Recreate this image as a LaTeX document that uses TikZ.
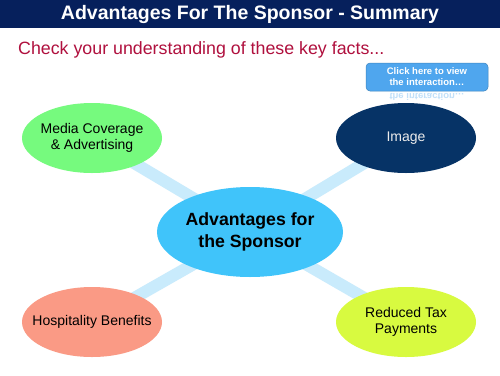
\documentclass[tikz,border=0pt]{standalone}
\usepackage{fontspec}
\setmainfont{Liberation Sans}
\usetikzlibrary{shapes.geometric,backgrounds}
\definecolor{navy}{HTML}{06205C}
\definecolor{imgnavy}{HTML}{063366}
\definecolor{subred}{HTML}{B0103E}
\definecolor{linkblue}{HTML}{C9EBFC}
\definecolor{centblue}{HTML}{40C4FA}
\definecolor{mgreen}{HTML}{76FA7E}
\definecolor{salmon}{HTML}{FA9A85}
\definecolor{lime}{HTML}{D8FA40}
\definecolor{btnblue}{HTML}{4FA6EE}
\newcommand\zwtext[1]{\makebox[0pt]{\begin{tabular}{@{}c@{}}#1\end{tabular}}}
\begin{document}
\begin{tikzpicture}[x=1pt,y=-1pt,
  bubble/.style={ellipse, minimum width=140pt, minimum height=70pt, inner sep=0pt, font=\fontsize{14}{16.5}\selectfont},
  link/.style={line width=12pt, draw=linkblue}]
\useasboundingbox (0,0) rectangle (500,375);
\fill[navy] (0,0) rectangle (500,28);
\node[text=white, font=\bfseries\fontsize{19.5}{22}\selectfont] (title) at (250,15) {Advantages For The Sponsor - Summary};
\node[text=subred, anchor=west, inner sep=0pt, font=\fontsize{17.8}{20}\selectfont] (sub) at (18,50) {Check your understanding of these key facts...};
% button
\node[draw=btnblue!80!black, line width=0.5pt, fill=btnblue, rounded corners=4pt, minimum width=122pt, minimum height=28pt, inner sep=0pt, align=center, text=white, font=\bfseries\fontsize{9.5}{11}\selectfont] (btn) at (427,77) {Click here to view\\the interaction\ldots};
\node[text=btnblue!35, yscale=-1, font=\bfseries\fontsize{9.5}{11}\selectfont] (refl) at (427,97) {the interaction\ldots};
% nodes
\node[bubble, fill=centblue, minimum width=186pt, minimum height=90pt, font=\bfseries\fontsize{17.7}{21.5}\selectfont] (c) at (250,232) {\zwtext{Advantages for\\the Sponsor}};
\node[bubble, fill=mgreen] (media) at (92,138) {\zwtext{Media Coverage\\\& Advertising}};
\node[bubble, fill=imgnavy, text=white!85!gray] (img) at (406,138) {\zwtext{Image}};
\node[bubble, fill=salmon] (hosp) at (92,322) {\zwtext{Hospitality Benefits}};
\node[bubble, fill=lime] (tax) at (406,322) {\zwtext{Reduced Tax\\Payments}};
\begin{scope}[on background layer]
\fill[white] (0,28) rectangle (500,375);
\draw[link] (c.center) -- (media.center);
\draw[link] (c.center) -- (img.center);
\draw[link] (c.center) -- (hosp.center);
\draw[link] (c.center) -- (tax.center);
\end{scope}
\end{tikzpicture}
\end{document}
